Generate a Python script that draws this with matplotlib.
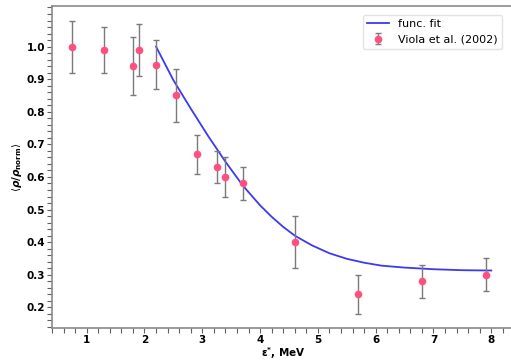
import matplotlib
matplotlib.use("Agg")
import matplotlib.pyplot as plt
from matplotlib.ticker import MultipleLocator

# Data points (Viola et al. 2002)
x_data = [0.74, 1.30, 1.80, 1.90, 2.20, 2.55, 2.90, 3.25, 3.40, 3.70, 4.60, 5.70, 6.80, 7.90]
y_data = [1.00, 0.99, 0.94, 0.99, 0.945, 0.85, 0.67, 0.63, 0.60, 0.58, 0.40, 0.24, 0.28, 0.30]
y_err  = [0.08, 0.07, 0.09, 0.08, 0.075, 0.08, 0.06, 0.05, 0.06, 0.05, 0.08, 0.06, 0.05, 0.05]

# Fit curve points
x_fit = [2.2, 2.5, 2.8, 3.1, 3.4, 3.7, 4.0, 4.2, 4.4, 4.6, 4.9, 5.2, 5.5, 5.8, 6.1, 6.5, 7.0, 7.5, 8.0]
y_fit = [1.000, 0.897, 0.810, 0.726, 0.647, 0.574, 0.513, 0.478, 0.447, 0.420, 0.390, 0.366, 0.349,
         0.337, 0.328, 0.322, 0.317, 0.314, 0.313]

x_ticks = [1, 2, 3, 4, 5, 6, 7, 8]
y_ticks = [0.2, 0.3, 0.4, 0.5, 0.6, 0.7, 0.8, 0.9, 1.0]

fig = plt.figure(figsize=(5.11, 3.61), dpi=100)
ax = fig.add_axes([52 / 511, 33 / 361, (514.4 - 52) / 511, (328 - 6) / 361])

ax.plot(x_fit, y_fit, color='#3a3af0', lw=1.3, label='func. fit')
ax.errorbar(x_data, y_data, yerr=y_err, fmt='o', color='#ff5080', ms=4.5,
            ecolor='#7a7a7a', elinewidth=1.0, capsize=2, capthick=1.0,
            label='Viola et al. (2002)')

ax.set_xlim(0.4, 8.4)
ax.set_ylim(0.1367, 1.1245)
ax.set_xticks(x_ticks)
ax.set_yticks(y_ticks)
ax.xaxis.set_minor_locator(MultipleLocator(0.2))
ax.yaxis.set_minor_locator(MultipleLocator(0.02))

for s in ax.spines.values():
    s.set_color('#8a8a8a')
    s.set_linewidth(1.2)

ax.tick_params(which='both', direction='out', color='#606060', length=3.5, width=0.8)
ax.tick_params(which='major', labelsize=7.5, pad=1.5)
for lab in ax.get_xticklabels() + ax.get_yticklabels():
    lab.set_fontweight('bold')

ax.set_xlabel('ε$^{\\mathbf{*}}$, MeV', fontsize=7.5, fontweight='bold', labelpad=0)
ax.set_ylabel(r'$\langle\boldsymbol{\rho/\rho}_{\mathbf{norm}}\rangle$', fontsize=7.5, labelpad=2)

leg = ax.legend(loc='upper right', fontsize=8, frameon=True, fancybox=True,
                bbox_to_anchor=(508 / 511, 0.975), bbox_transform=fig.transFigure,
                borderpad=0.4, handlelength=2.0)
leg.get_frame().set_edgecolor('#dddddd')

fig.savefig('out.png', dpi=100)
